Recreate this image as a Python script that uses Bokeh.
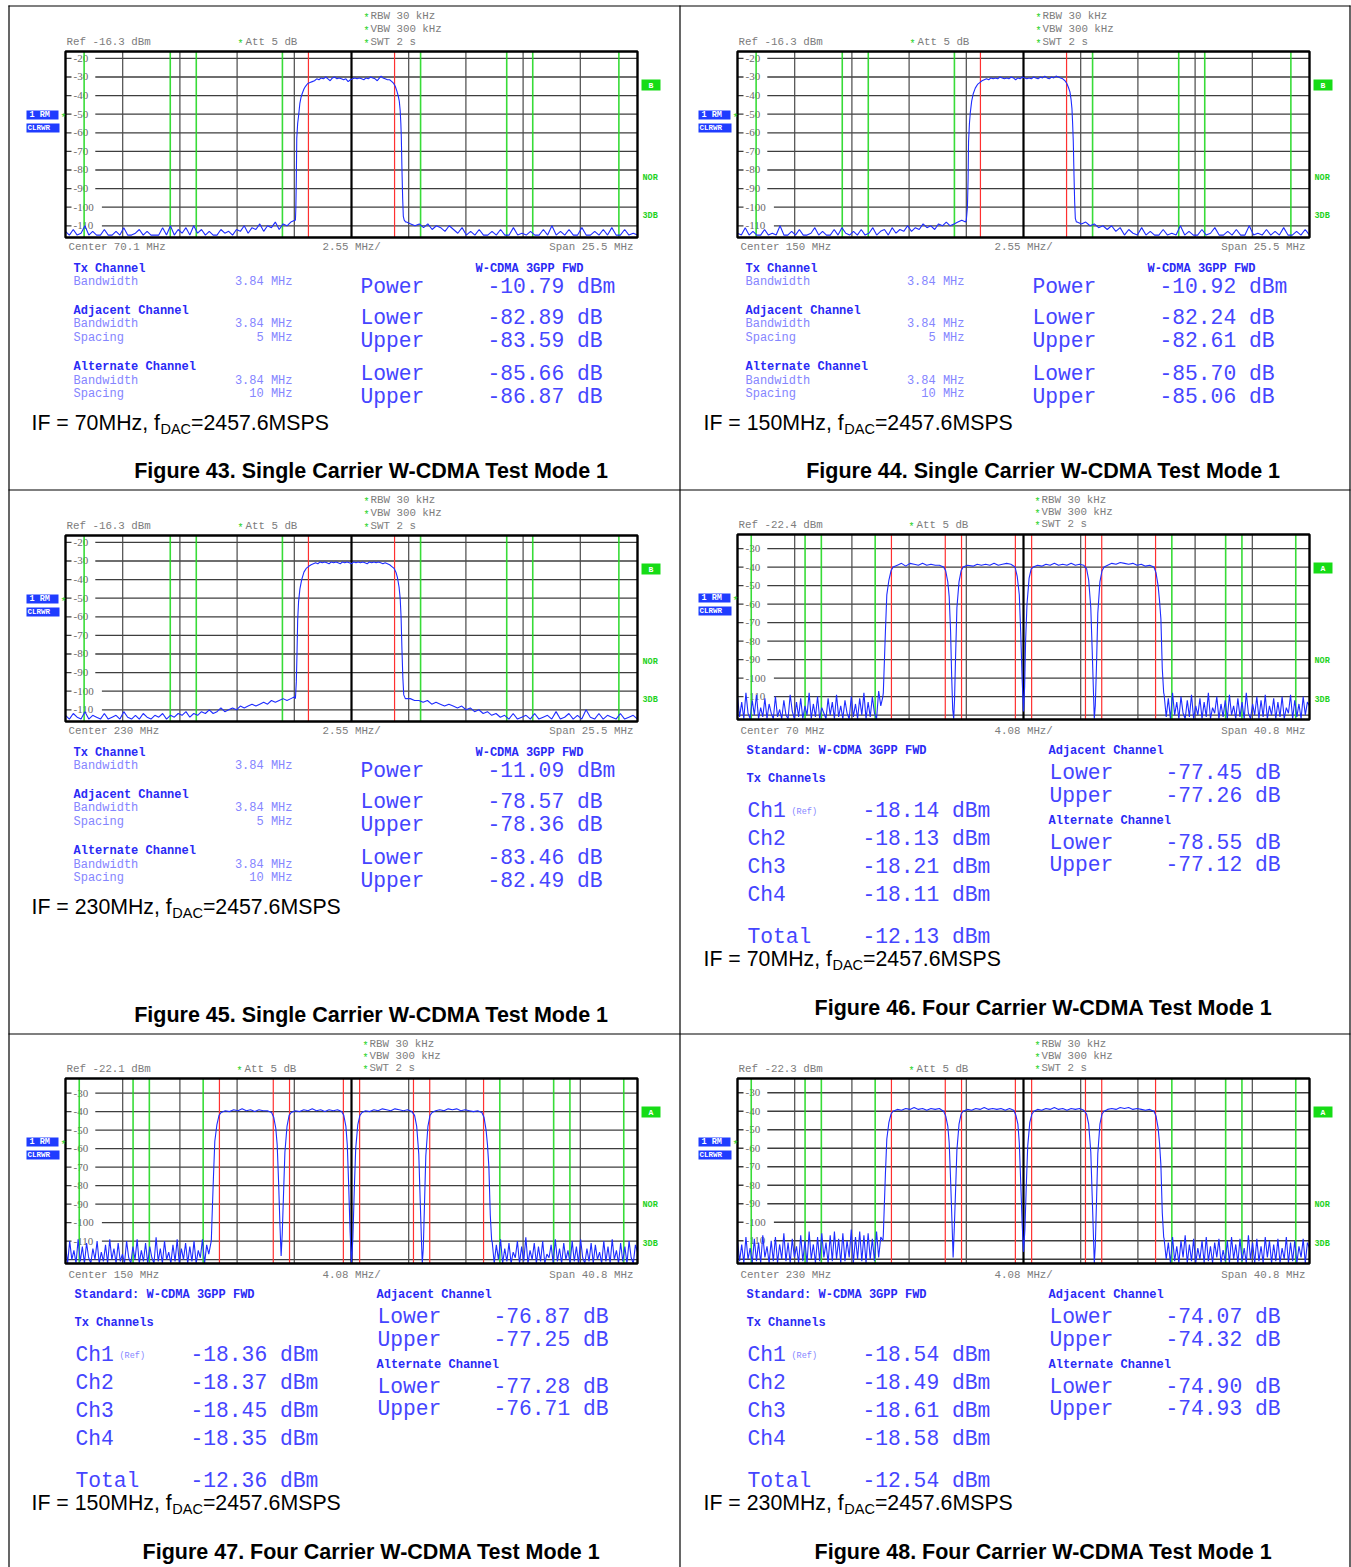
import numpy as np
from bokeh.plotting import figure
from bokeh.models import Range1d, ColumnDataSource
from bokeh.embed import file_html
from bokeh.resources import INLINE

# ---------------------------------------------------------------- data
FIGURE_NUMBERS = [43, 44, 45, 46, 47, 48]
CARRIER_WORD = ["Single", "Single", "Single", "Four", "Four", "Four"]
CENTER_MHZ = [70.1, 150, 230, 70, 150, 230]
SPAN_MHZ = [25.5, 25.5, 25.5, 40.8, 40.8, 40.8]
REF_LEVEL_DBM = [-16.3, -16.3, -16.3, -22.4, -22.1, -22.3]
IF_MHZ = [70, 150, 230, 70, 150, 230]
MARKER_LETTER = ["B", "B", "B", "A", "A", "A"]
FDAC_MSPS = 2457.6
CHANNEL_BW_MHZ = 3.84
ADJ_SPACING_MHZ = 5
ALT_SPACING_MHZ = 10
SC_CARRIER_OFFSETS = [0.0]
MC_CARRIER_OFFSETS = [-7.5, -2.5, 2.5, 7.5]

# single-carrier ACLR results (Fig 43, 44, 45)
SC_POWER_DBM = [-10.79, -10.92, -11.09]
SC_ADJ_LOWER = [-82.89, -82.24, -78.57]
SC_ADJ_UPPER = [-83.59, -82.61, -78.36]
SC_ALT_LOWER = [-85.66, -85.70, -83.46]
SC_ALT_UPPER = [-86.87, -85.06, -82.49]
# four-carrier results (Fig 46, 47, 48)
MC_CH1 = [-18.14, -18.36, -18.54]
MC_CH2 = [-18.13, -18.37, -18.49]
MC_CH3 = [-18.21, -18.45, -18.61]
MC_CH4 = [-18.11, -18.35, -18.58]
MC_TOTAL = [-12.13, -12.36, -12.54]
MC_ADJ_LOWER = [-77.45, -76.87, -74.07]
MC_ADJ_UPPER = [-77.26, -77.25, -74.32]
MC_ALT_LOWER = [-78.55, -77.28, -74.90]
MC_ALT_UPPER = [-77.12, -76.71, -74.93]

# ---- traces: noise floor samples (evenly swept) + carrier points (offset MHz, dBm)
N43_L = [-113,-115,-112,-115,-114,-110,-115,-113,-115,-115,-112,-115,-115,-113,-115,-111,-115,-115,-114,-112,
         -115,-113,-115,-115,-115,-111,-115,-110,-115,-112,-114,-111,-115,-110,-114,-112,-115,-113,-115,-115,
         -112,-114,-113,-115,-112,-113,-110,-114,-111,-112,-109,-113,-110,-111,-108,-112,-109,-110,-108,-107]
N43_R = [-108,-109,-110,-109,-111,-109,-112,-110,-111,-113,-110,-112,-114,-111,-115,-113,-115,-112,-115,-115,
         -113,-115,-112,-115,-115,-111,-115,-114,-115,-113,-115,-115,-112,-115,-110,-115,-113,-115,-112,-115,
         -115,-111,-115,-115,-113,-115,-112,-115,-111,-115,-115,-112,-115,-114,-115]
C43 = [(-2.50,-107),(-2.48,-100),(-2.46,-85),(-2.44,-63),(-2.40,-55),(-2.36,-51),(-2.30,-44),(-2.25,-41),
       (-2.20,-39),(-2.12,-36.5),(-2.05,-35),(-1.95,-33.5),(-1.85,-33),(-1.75,-32.5),(-1.65,-32),(-1.55,-31),
       (-1.45,-31.5),(-1.35,-30.5),(-1.25,-31),(-1.15,-30),(-1.05,-31),(-0.95,-32),(-0.85,-30.5),(-0.75,-30),
       (-0.65,-31),(-0.55,-30.5),(-0.45,-31),(-0.35,-31.5),(-0.25,-31),(-0.15,-32.5),(-0.05,-31.5),(0.05,-31),
       (0.15,-30.5),(0.25,-31),(0.35,-30.5),(0.45,-31),(0.55,-31.5),(0.65,-30.5),(0.75,-31),(0.85,-30),
       (0.95,-30.5),(1.05,-31),(1.15,-32),(1.25,-30.5),(1.32,-29.5),(1.40,-30.5),(1.50,-31),(1.60,-31.5),
       (1.70,-31.5),(1.80,-32.5),(1.88,-33.5),(1.95,-35),(2.02,-37.5),(2.08,-40),(2.13,-43),(2.17,-48),
       (2.20,-55),(2.22,-62),(2.25,-80),(2.28,-95),(2.31,-105),(2.35,-107),(2.42,-108)]

N44_L = [-114,-115,-111,-115,-113,-115,-115,-112,-115,-114,-115,-110,-115,-115,-113,-115,-112,-115,-115,-114,
         -111,-115,-113,-115,-115,-112,-115,-111,-114,-115,-113,-115,-112,-115,-114,-111,-115,-113,-112,-115,
         -111,-114,-112,-113,-110,-113,-111,-112,-109,-111,-110,-112,-109,-110,-108,-110,-109,-108,-107,-108]
N44_R = [-108,-109,-108,-110,-109,-111,-110,-112,-110,-113,-111,-115,-112,-114,-115,-111,-115,-113,-115,-115,
         -112,-115,-114,-115,-110,-115,-113,-115,-115,-112,-115,-114,-111,-115,-115,-113,-115,-112,-115,-115,
         -110,-115,-114,-115,-112,-115,-113,-115,-111,-115,-115,-113,-115,-112,-115]
C44 = [(-2.55,-107),(-2.50,-100),(-2.47,-85),(-2.45,-65),(-2.41,-55),(-2.37,-49),(-2.31,-43),(-2.24,-39),
       (-2.15,-36),(-2.05,-34),(-1.95,-33),(-1.85,-32),(-1.75,-31.5),(-1.65,-31),(-1.55,-31.5),(-1.45,-30.5),
       (-1.35,-31),(-1.25,-30.5),(-1.15,-31),(-1.05,-30),(-0.95,-30.5),(-0.85,-31),(-0.75,-30.5),(-0.65,-31),
       (-0.55,-30),(-0.45,-30.5),(-0.35,-31.5),(-0.25,-30.5),(-0.15,-31),(-0.05,-30),(0.05,-30.5),(0.15,-31),
       (0.25,-30.5),(0.35,-31),(0.45,-30),(0.55,-30.5),(0.65,-31),(0.75,-30),(0.85,-30.5),(0.95,-29.5),
       (1.05,-30.5),(1.15,-31),(1.25,-30),(1.35,-30.5),(1.45,-29.5),(1.55,-30),(1.65,-30.5),(1.75,-31),
       (1.85,-32),(1.93,-33.5),(2.00,-35.5),(2.07,-38),(2.12,-42),(2.16,-47),(2.19,-55),(2.22,-65),
       (2.25,-82),(2.28,-97),(2.31,-106),(2.36,-108)]

N45_L = [-113,-115,-112,-114,-115,-111,-115,-113,-114,-115,-112,-115,-114,-113,-115,-111,-114,-115,-113,-115,
         -112,-114,-115,-113,-114,-112,-115,-113,-114,-112,-113,-111,-114,-112,-113,-111,-112,-110,-112,-111,
         -109,-111,-110,-109,-110,-108,-109,-108,-107,-108,-107,-106,-107,-105,-106,-105,-104,-105,-104,-103]
N45_R = [-104,-104,-105,-105,-106,-105,-107,-106,-107,-108,-107,-108,-109,-108,-110,-109,-111,-110,-112,-111,
         -113,-112,-114,-113,-115,-112,-115,-114,-113,-115,-112,-115,-114,-113,-115,-111,-115,-114,-112,-115,
         -113,-115,-110,-114,-115,-112,-115,-113,-114,-115,-112,-115,-114,-113,-115]
C45 = [(-2.50,-104),(-2.46,-95),(-2.43,-80),(-2.40,-62),(-2.36,-52),(-2.30,-45),(-2.22,-40),(-2.12,-36),
       (-2.02,-34),(-1.92,-33),(-1.80,-32),(-1.70,-31.5),(-1.60,-31),(-1.50,-31.5),(-1.40,-30.5),(-1.30,-31),
       (-1.20,-30.5),(-1.10,-31),(-1.00,-31.5),(-0.90,-30.5),(-0.80,-31),(-0.70,-30.5),(-0.60,-31),(-0.50,-31.5),
       (-0.40,-30.5),(-0.30,-31),(-0.20,-30.5),(-0.10,-31),(0.00,-31.5),(0.10,-30.5),(0.20,-31),(0.30,-30.5),
       (0.40,-31),(0.50,-30.5),(0.60,-31),(0.70,-31.5),(0.80,-30.5),(0.90,-31),(1.00,-30.5),(1.10,-31),
       (1.20,-30.5),(1.30,-31),(1.40,-31.5),(1.50,-31),(1.60,-31.5),(1.70,-32),(1.80,-33),(1.90,-34),
       (1.98,-36),(2.05,-39),(2.12,-44),(2.17,-50),(2.21,-60),(2.25,-78),(2.29,-93),(2.33,-102),(2.40,-104)]

N46_L = [-110,-121,-113,-122,-108,-119,-122,-112,-120,-109,-122,-116,-121,-111,-122,-114,-119,-122,-110,-121,
         -117,-122,-112,-120,-122,-109,-118,-122,-113,-121,-111,-122,-115,-120,-108,-122,-114,-121,-110,-122,
         -116,-119,-122,-111,-120,-113,-122,-109,-121,-115,-122,-112,-119,-122,-110,-121,-114,-122,-111,-120,
         -108,-122,-113,-121,-110,-119,-122,-107,-115,-110]
N46_R = [-109,-121,-111,-122,-108,-120,-113,-122,-110,-119,-122,-112,-121,-109,-122,-115,-120,-111,-122,-113,
         -121,-108,-122,-116,-119,-110,-122,-114,-121,-112,-122,-109,-120,-115,-122,-111,-121,-113,-122,-108,
         -119,-122,-114,-120,-110,-122,-112,-121,-109,-122,-115,-120,-111,-122,-113,-121,-110,-122,-116,-119,
         -109,-122,-112,-121,-114,-122,-110,-120,-113,-115]
C46 = [(-10.0,-108),(-9.95,-97),(-9.85,-75),(-9.75,-55),(-9.6,-47),(-9.45,-42),(-9.3,-40),(-9.0,-39),
       (-8.7,-38),(-8.4,-39.5),(-8.1,-38),(-7.8,-38.5),(-7.5,-39),(-7.2,-38),(-6.9,-39),(-6.6,-38.5),
       (-6.3,-39),(-6.0,-39),(-5.7,-40),(-5.55,-42),(-5.4,-48),(-5.3,-56),(-5.2,-75),(-5.12,-100),
       (-5.05,-117),(-4.98,-122),(-4.92,-112),(-4.85,-90),(-4.75,-62),(-4.6,-48),(-4.45,-42),(-4.3,-40),
       (-4.0,-39),(-3.6,-39.5),(-3.3,-38.5),(-3.0,-39),(-2.7,-38.5),(-2.4,-39),(-2.1,-38),(-1.8,-39),
       (-1.5,-38.5),(-1.2,-38),(-0.9,-38.5),(-0.6,-40),(-0.45,-45),(-0.3,-55),(-0.2,-75),(-0.1,-100),
       (0.0,-118),(0.08,-105),(0.15,-80),(0.25,-60),(0.4,-46),(0.55,-41),(0.7,-40),(1.0,-39),
       (1.3,-39.5),(1.6,-38.5),(1.9,-39),(2.2,-38),(2.5,-39),(2.8,-38.5),(3.1,-39),(3.4,-38),
       (3.7,-39),(4.0,-38.5),(4.3,-39),(4.5,-41),(4.65,-47),(4.8,-62),(4.9,-85),(5.0,-110),
       (5.05,-122),(5.12,-115),(5.2,-95),(5.3,-65),(5.45,-48),(5.6,-42),(5.75,-40),(6.0,-39),
       (6.3,-38),(6.6,-38.5),(6.9,-37.5),(7.2,-38),(7.5,-38.5),(7.8,-38),(8.1,-39),(8.4,-38.5),
       (8.7,-39.5),(9.0,-39),(9.3,-40),(9.45,-43),(9.6,-50),(9.7,-58),(9.8,-68),(9.9,-95),(10.0,-108)]

N47_L = [-112,-122,-110,-120,-115,-122,-109,-121,-113,-122,-111,-119,-122,-114,-120,-110,-122,-116,-121,-112,
         -122,-109,-120,-114,-122,-111,-121,-117,-122,-110,-119,-122,-113,-120,-109,-122,-115,-121,-111,-122,
         -113,-119,-122,-108,-121,-114,-122,-110,-120,-116,-122,-112,-121,-109,-122,-114,-120,-111,-122,-113,
         -121,-110,-122,-115,-119,-109,-122,-112,-117,-111]
N47_R = [-110,-122,-112,-120,-109,-122,-114,-121,-111,-122,-116,-119,-110,-122,-113,-121,-108,-122,-115,-120,
         -111,-122,-113,-121,-110,-122,-117,-119,-112,-122,-109,-121,-114,-122,-111,-120,-115,-122,-110,-121,
         -113,-122,-109,-119,-122,-114,-121,-111,-122,-112,-120,-116,-122,-110,-121,-113,-122,-109,-120,-115,
         -122,-111,-121,-113,-122,-110,-119,-122,-112,-116]
C47 = [(-10.0,-110),(-9.95,-98),(-9.85,-76),(-9.75,-56),(-9.6,-47),(-9.45,-42),(-9.3,-40.5),(-9.0,-39.5),
       (-8.7,-40),(-8.4,-39),(-8.1,-39.5),(-7.8,-38.5),(-7.5,-39.5),(-7.2,-39),(-6.9,-40),(-6.6,-39),
       (-6.3,-39.5),(-6.0,-39.5),(-5.7,-40.5),(-5.55,-43),(-5.4,-49),(-5.3,-58),(-5.2,-78),(-5.1,-102),
       (-5.02,-118),(-4.94,-106),(-4.85,-85),(-4.75,-62),(-4.6,-48),(-4.45,-42),(-4.3,-40.5),(-4.0,-39.5),
       (-3.7,-40),(-3.4,-39),(-3.1,-39.5),(-2.8,-38.5),(-2.5,-39.5),(-2.2,-39),(-1.9,-40),(-1.6,-39),
       (-1.3,-39.5),(-1.0,-39),(-0.7,-40),(-0.55,-42),(-0.4,-48),(-0.3,-58),(-0.2,-80),(-0.1,-105),
       (0.0,-122),(0.1,-108),(0.2,-82),(0.3,-60),(0.45,-47),(0.6,-42),(0.75,-40.5),(1.0,-39.5),
       (1.3,-40),(1.6,-39),(1.9,-39.5),(2.2,-38.5),(2.5,-39),(2.8,-39.5),(3.1,-38.5),(3.4,-39),
       (3.7,-39.5),(4.0,-39),(4.3,-40),(4.5,-42),(4.65,-48),(4.8,-63),(4.9,-88),(5.0,-112),
       (5.05,-122),(5.12,-114),(5.2,-92),(5.3,-64),(5.45,-48),(5.6,-42),(5.75,-40.5),(6.0,-39.5),
       (6.3,-39),(6.6,-39.5),(6.9,-38.5),(7.2,-39),(7.5,-38.5),(7.8,-39.5),(8.1,-39),(8.4,-39.5),
       (8.7,-40),(9.0,-39.5),(9.3,-40.5),(9.45,-43),(9.6,-50),(9.7,-58),(9.8,-70),(9.9,-96),(10.0,-110)]

N48_L = [-110,-121,-112,-122,-108,-120,-114,-122,-109,-121,-111,-122,-107,-119,-113,-122,-110,-121,-108,-122,
         -112,-120,-106,-121,-111,-122,-109,-119,-113,-122,-107,-121,-110,-122,-105,-120,-112,-122,-108,-121,
         -106,-119,-111,-122,-107,-121,-105,-120,-109,-122,-106,-121,-110,-119,-104,-122,-108,-120,-105,-121,
         -107,-122,-106,-120,-109,-121,-105,-119,-108,-110]
N48_R = [-109,-120,-111,-122,-108,-121,-113,-122,-110,-119,-107,-122,-112,-121,-109,-122,-114,-120,-110,-122,
         -108,-121,-113,-122,-111,-119,-109,-122,-115,-121,-110,-122,-108,-120,-112,-122,-109,-121,-114,-122,
         -107,-120,-111,-122,-109,-121,-113,-122,-108,-119,-110,-122,-112,-121,-109,-122,-114,-120,-108,-122,
         -111,-121,-110,-122,-113,-119,-109,-122,-111,-114]
C48 = [(-10.0,-107),(-9.95,-96),(-9.85,-74),(-9.75,-55),(-9.6,-46),(-9.45,-41.5),(-9.3,-40),(-9.0,-39),
       (-8.7,-39.5),(-8.4,-38.5),(-8.1,-39),(-7.8,-38),(-7.5,-39),(-7.2,-38.5),(-6.9,-39.5),(-6.6,-38.5),
       (-6.3,-39),(-6.0,-38.5),(-5.7,-40),(-5.55,-42.5),(-5.4,-48),(-5.3,-57),(-5.2,-77),(-5.1,-100),
       (-5.02,-119),(-4.94,-104),(-4.85,-84),(-4.75,-61),(-4.6,-47),(-4.45,-41.5),(-4.3,-40),(-4.0,-39),
       (-3.7,-39.5),(-3.4,-38.5),(-3.1,-39),(-2.8,-38),(-2.5,-39),(-2.2,-38.5),(-1.9,-39),(-1.6,-38.5),
       (-1.3,-39.5),(-1.0,-38.5),(-0.7,-39.5),(-0.55,-42),(-0.4,-47),(-0.3,-57),(-0.2,-78),(-0.1,-100),
       (0.0,-116),(0.1,-104),(0.2,-80),(0.3,-59),(0.45,-46),(0.6,-41.5),(0.75,-40),(1.0,-39),
       (1.3,-39.5),(1.6,-38.5),(1.9,-39),(2.2,-38),(2.5,-39),(2.8,-38.5),(3.1,-39.5),(3.4,-38.5),
       (3.7,-39),(4.0,-38.5),(4.3,-39.5),(4.5,-41.5),(4.65,-47),(4.8,-62),(4.9,-86),(5.0,-110),
       (5.05,-122),(5.12,-113),(5.2,-91),(5.3,-63),(5.45,-47),(5.6,-41.5),(5.75,-40),(6.0,-39),
       (6.3,-38.5),(6.6,-39),(6.9,-38),(7.2,-38.5),(7.5,-38),(7.8,-39),(8.1,-38.5),(8.4,-39),
       (8.7,-39.5),(9.0,-39),(9.3,-40),(9.45,-42.5),(9.6,-49),(9.7,-57),(9.8,-69),(9.9,-95),(10.0,-108)]

NOISE_LEFT = [N43_L, N44_L, N45_L, N46_L, N47_L, N48_L]
NOISE_RIGHT = [N43_R, N44_R, N45_R, N46_R, N47_R, N48_R]
CARRIER_TRACE = [C43, C44, C45, C46, C47, C48]

# ---------------------------------------------------------------- layout (page pixels)
W, H = 1351, 1567
X0, Y0 = 0, 0
FRAMES = [(65, 637, 51, 237), (737, 1309, 51, 237), (65, 637, 535, 721),
          (737, 1309, 534, 719), (65, 637, 1078, 1263), (737, 1309, 1078, 1263)]
SC_SHIFT = [(0, 0), (672, 0), (0, 484)]
MC_SHIFT = [(0, 0), (-672, 544), (0, 544)]
CAPTION_Y = [470, 470, 1014, 1007, 1551, 1551]

MONO = "Liberation Mono"
SANS = "Liberation Sans"
GRAY = "#7c7c7c"
GREEN = "#1ed21e"
BLUE_H = "#2a2af5"
BLUE_L = "#8585ff"
BLUE_V = "#4545ff"
TRACE = "#1e2cff"
BIG = 21.3

p = figure(width=W, height=H, x_range=Range1d(X0, X0 + W), y_range=Range1d(Y0 + H, Y0),
           output_backend="svg", toolbar_location=None, min_border=0,
           x_axis_type=None, y_axis_type=None)
p.outline_line_color = None
p.background_fill_color = "white"
p.border_fill_color = "white"

# table lines of the page
p.segment(x0=[8.5, 679.5, 1349.5, 8, 8, 8], y0=[5, 5, 5, 5.5, 489.5, 1033.5],
          x1=[8.5, 679.5, 1349.5, 1350, 1350, 1350], y1=[1567, 1567, 1567, 5.5, 489.5, 1033.5],
          line_color="black", line_width=1.2)

T = dict(x=[], y=[], text=[], tfont=[], tsize=[], tcolor=[], tstyle=[], talign=[])


def put(x, y, s, size, color, style="normal", font=MONO, align="left"):
    T["x"].append(x); T["y"].append(y); T["text"].append(s)
    T["tfont"].append(font); T["tsize"].append(f"{size}px"); T["tcolor"].append(color)
    T["tstyle"].append(style); T["talign"].append(align)


ARIAL_W = {'I': .278, 'F': .611, ' ': .278, '=': .584, 'M': .833, 'H': .722, 'z': .5, ',': .278,
           'f': .278, 'D': .722, 'A': .667, 'C': .722}


def sans_w(s, size):
    return sum(ARIAL_W.get(c, .556) for c in s) * size


def trace_xy(i):
    span = SPAN_MHZ[i]
    c = CENTER_MHZ[i]
    cp = CARRIER_TRACE[i]
    nl, nr = NOISE_LEFT[i], NOISE_RIGHT[i]
    lx = np.linspace(-span / 2, cp[0][0] - 0.03, len(nl))
    rx = np.linspace(cp[-1][0] + 0.03, span / 2, len(nr))
    x = np.concatenate([lx, [q[0] for q in cp], rx]) + c
    y = np.concatenate([nl, [q[1] for q in cp], nr])
    return x, y


for i in range(6):
    L, R, Tp, B = FRAMES[i]
    c, span, ref = CENTER_MHZ[i], SPAN_MHZ[i], REF_LEVEL_DBM[i]
    f0, f1 = c - span / 2, c + span / 2
    ylo, yhi = ref - 100, ref
    sxp = (f1 - f0) / (R - L)
    syp = (yhi - ylo) / (B - Tp)
    xn, yn = f"x{i}", f"y{i}"
    p.extra_x_ranges[xn] = Range1d(f0 - (L - X0) * sxp, f1 + (X0 + W - R) * sxp)
    p.extra_y_ranges[yn] = Range1d(ylo - (Y0 + H - B) * syp, yhi + (Tp - Y0) * syp)

    # grid
    levels = [v for v in range(-10, -130, -10) if ylo < v < yhi]
    p.segment(x0=[f0] * len(levels), x1=[f1] * len(levels), y0=levels, y1=levels,
              x_range_name=xn, y_range_name=yn, line_color="#3e3e3e", line_width=1.3)
    vx = [f0 + k * span / 10 for k in range(1, 10)]
    p.segment(x0=vx, x1=vx, y0=[ylo] * 9, y1=[yhi] * 9, x_range_name=xn, y_range_name=yn,
              line_color=["#4a4a4a"] * 4 + ["black"] + ["#4a4a4a"] * 4,
              line_width=[1.2] * 4 + [2.2] + [1.2] * 4)
    # y tick labels inside the frame
    lab_lv = [v for v in levels if v - ylo > 4]
    labs = [f"-{abs(v)}" for v in lab_lv]
    lw = [len(s) * 6.6 + 4 for s in labs]
    p.rect(x=[L + 6 + w / 2 for w in lw], y=lab_lv, width=lw, height=[10] * len(lw),
           width_units="screen", height_units="screen", y_range_name=yn,
           fill_color="white", line_color=None)
    p.text(x=[L + 8] * len(labs), y=lab_lv, text=labs, y_range_name=yn,
           text_font=MONO, text_font_size="11px", text_color="#6a6a6a",
           text_baseline="middle", text_align="left")

    # channel markers
    carriers = SC_CARRIER_OFFSETS if i < 3 else MC_CARRIER_OFFSETS
    lo, hi = min(carriers), max(carriers)
    red = [c + o + s * CHANNEL_BW_MHZ / 2 for o in carriers for s in (-1, 1)]
    grn = []
    for sp in (ADJ_SPACING_MHZ, ALT_SPACING_MHZ):
        for cc in (lo - sp, hi + sp):
            grn += [c + cc - CHANNEL_BW_MHZ / 2, c + cc + CHANNEL_BW_MHZ / 2]
    p.segment(x0=grn, x1=grn, y0=[ylo] * len(grn), y1=[yhi] * len(grn), x_range_name=xn,
              y_range_name=yn, line_color="#22d822", line_width=1.6, line_alpha=0.9)
    p.segment(x0=red, x1=red, y0=[ylo] * len(red), y1=[yhi] * len(red), x_range_name=xn,
              y_range_name=yn, line_color="#ff3030", line_width=1.2)

    # trace
    tx, ty = trace_xy(i)
    p.line(x=tx, y=ty, x_range_name=xn, y_range_name=yn, line_color=TRACE, line_width=1.1)
    # frame
    p.quad(left=f0, right=f1, bottom=ylo, top=yhi, x_range_name=xn, y_range_name=yn,
           fill_color=None, line_color="black", line_width=2.4)

# ---------------------------------------------------------------- texts
BOXQ = dict(l=[], r=[], t=[], b=[], c=[])


def box(l, r, t, b, col):
    BOXQ["l"].append(l); BOXQ["r"].append(r); BOXQ["t"].append(t); BOXQ["b"].append(b); BOXQ["c"].append(col)


def if_line(x, y, i):
    part1 = f"IF = {IF_MHZ[i]}MHz, f"
    put(x, y, part1, BIG, "black", font=SANS)
    x1 = x + sans_w(part1, BIG) + 0.5
    put(x1, y + 6, "DAC", 14.5, "black", font=SANS)
    x2 = x1 + sans_w("DAC", 14.5)
    put(x2, y, f"={FDAC_MSPS}MSPS", BIG, "black", font=SANS)


def side_items(dx, dy, rm_y, mk_y, nor_y, db_y, rx, letter):
    box(26 + dx, 58 + dx, rm_y + dy, rm_y + 9 + dy, "#1f3cff")
    put(29 + dx, rm_y + 4.8 + dy, "1 RM", 8.5, "white", "bold")
    put(60 + dx, rm_y + 7.5 + dy, "*", 10, GREEN)
    box(26 + dx, 59 + dx, rm_y + 13 + dy, rm_y + 22 + dy, "#1f3cff")
    put(27 + dx, rm_y + 17.8 + dy, "CLRWR", 7.5, "white", "bold")
    box(rx + dx, rx + 19 + dx, mk_y + dy, mk_y + 11 + dy, "#16dc16")
    put(rx + 9.5 + dx, mk_y + 5.8 + dy, letter, 8, "white", "bold", align="center")
    put(rx + 1 + dx, nor_y + dy, "NOR", 8.5, GREEN, "bold")
    put(rx + 1 + dx, db_y + dy, "3DB", 8.5, GREEN, "bold")


# single carrier figures 43-45
for j in range(3):
    i = j
    dx, dy = SC_SHIFT[j]
    ref, c, span = REF_LEVEL_DBM[i], CENTER_MHZ[i], SPAN_MHZ[i]
    for k, s in enumerate(["RBW 30 kHz", "VBW 300 kHz", "SWT 2 s"]):
        put(363 + dx, 18 + 13 * k + dy, "*", 10, GREEN)
        put(370 + dx, 15 + 13 * k + dy, s, 10.8, GRAY)
    put(66 + dx, 41 + dy, f"Ref {ref:.1f} dBm", 10.8, GRAY)
    put(237 + dx, 44 + dy, "*", 10, GREEN)
    put(245 + dx, 41 + dy, "Att  5 dB", 10.8, GRAY)
    put(68 + dx, 246 + dy, f"Center {c:g} MHz", 10.8, GRAY)
    put(322 + dx, 246 + dy, f"{span / 10:.2f} MHz/", 10.8, GRAY)
    put(633 + dx, 246 + dy, f"Span {span:g} MHz", 10.8, GRAY, align="right")
    side_items(dx, dy, 110, 79, 177, 215, 641, MARKER_LETTER[i])

    put(73 + dx, 268 + dy, "Tx Channel", 12, BLUE_H, "bold")
    put(475 + dx, 268 + dy, "W-CDMA 3GPP FWD", 12, BLUE_H, "bold")
    put(73 + dx, 281 + dy, "Bandwidth", 12, BLUE_L)
    put(292 + dx, 281 + dy, f"{CHANNEL_BW_MHZ} MHz", 12, BLUE_L, align="right")
    put(360 + dx, 286 + dy, "Power", BIG, BLUE_V)
    put(487 + dx, 286 + dy, f"{SC_POWER_DBM[j]:.2f} dBm", BIG, BLUE_V)
    put(73 + dx, 310 + dy, "Adjacent Channel", 12, BLUE_H, "bold")
    put(73 + dx, 323 + dy, "Bandwidth", 12, BLUE_L)
    put(292 + dx, 323 + dy, f"{CHANNEL_BW_MHZ} MHz", 12, BLUE_L, align="right")
    put(73 + dx, 337 + dy, "Spacing", 12, BLUE_L)
    put(292 + dx, 337 + dy, f"{ADJ_SPACING_MHZ} MHz", 12, BLUE_L, align="right")
    put(360 + dx, 317 + dy, "Lower", BIG, BLUE_V)
    put(487 + dx, 317 + dy, f"{SC_ADJ_LOWER[j]:.2f} dB", BIG, BLUE_V)
    put(360 + dx, 340 + dy, "Upper", BIG, BLUE_V)
    put(487 + dx, 340 + dy, f"{SC_ADJ_UPPER[j]:.2f} dB", BIG, BLUE_V)
    put(73 + dx, 366 + dy, "Alternate Channel", 12, BLUE_H, "bold")
    put(73 + dx, 380 + dy, "Bandwidth", 12, BLUE_L)
    put(292 + dx, 380 + dy, f"{CHANNEL_BW_MHZ} MHz", 12, BLUE_L, align="right")
    put(73 + dx, 393 + dy, "Spacing", 12, BLUE_L)
    put(292 + dx, 393 + dy, f"{ALT_SPACING_MHZ} MHz", 12, BLUE_L, align="right")
    put(360 + dx, 373 + dy, "Lower", BIG, BLUE_V)
    put(487 + dx, 373 + dy, f"{SC_ALT_LOWER[j]:.2f} dB", BIG, BLUE_V)
    put(360 + dx, 396 + dy, "Upper", BIG, BLUE_V)
    put(487 + dx, 396 + dy, f"{SC_ALT_UPPER[j]:.2f} dB", BIG, BLUE_V)
    if_line(31 + dx, 422 + dy, i)
    put(371 + dx, CAPTION_Y[i], f"Figure {FIGURE_NUMBERS[i]}. {CARRIER_WORD[i]} Carrier W-CDMA Test Mode 1",
        21.5, "black", "bold", SANS, "center")

# four carrier figures 46-48
MC_CH = [MC_CH1, MC_CH2, MC_CH3, MC_CH4]
for j in range(3):
    i = j + 3
    dx, dy = MC_SHIFT[j]
    ref, c, span = REF_LEVEL_DBM[i], CENTER_MHZ[i], SPAN_MHZ[i]
    for k, s in enumerate(["RBW 30 kHz", "VBW 300 kHz", "SWT 2 s"]):
        put(1034 + dx, 502 + 12 * k + dy, "*", 10, GREEN)
        put(1041 + dx, 499 + 12 * k + dy, s, 10.8, GRAY)
    put(738 + dx, 524 + dy, f"Ref {ref:.1f} dBm", 10.8, GRAY)
    put(908 + dx, 527 + dy, "*", 10, GREEN)
    put(916 + dx, 524 + dy, "Att  5 dB", 10.8, GRAY)
    put(740 + dx, 730 + dy, f"Center {c:g} MHz", 10.8, GRAY)
    put(994 + dx, 730 + dy, f"{span / 10:.2f} MHz/", 10.8, GRAY)
    put(1305 + dx, 730 + dy, f"Span {span:g} MHz", 10.8, GRAY, align="right")
    side_items(dx + 672, dy, 593, 562, 660, 699, 1313 - 672, MARKER_LETTER[i])

    put(746 + dx, 750 + dy, "Standard: W-CDMA 3GPP FWD", 12, BLUE_H, "bold")
    put(746 + dx, 778 + dy, "Tx Channels", 12, BLUE_H, "bold")
    for k in range(4):
        yy = 810 + 28 * k + dy
        put(747 + dx, yy, f"Ch{k + 1}", BIG, BLUE_V)
        put(862 + dx, yy, f"{MC_CH[k][j]:.2f} dBm", BIG, BLUE_V)
    put(791 + dx, 811 + dy, "(Ref)", 8.5, BLUE_L)
    put(747 + dx, 936 + dy, "Total", BIG, BLUE_V)
    put(862 + dx, 936 + dy, f"{MC_TOTAL[j]:.2f} dBm", BIG, BLUE_V)
    put(1048 + dx, 750 + dy, "Adjacent Channel", 12, BLUE_H, "bold")
    put(1049 + dx, 772 + dy, "Lower", BIG, BLUE_V)
    put(1165 + dx, 772 + dy, f"{MC_ADJ_LOWER[j]:.2f} dB", BIG, BLUE_V)
    put(1049 + dx, 795 + dy, "Upper", BIG, BLUE_V)
    put(1165 + dx, 795 + dy, f"{MC_ADJ_UPPER[j]:.2f} dB", BIG, BLUE_V)
    put(1048 + dx, 820 + dy, "Alternate Channel", 12, BLUE_H, "bold")
    put(1049 + dx, 842 + dy, "Lower", BIG, BLUE_V)
    put(1165 + dx, 842 + dy, f"{MC_ALT_LOWER[j]:.2f} dB", BIG, BLUE_V)
    put(1049 + dx, 864 + dy, "Upper", BIG, BLUE_V)
    put(1165 + dx, 864 + dy, f"{MC_ALT_UPPER[j]:.2f} dB", BIG, BLUE_V)
    if_line(703 + dx, 958 + dy, i)
    put(1043 + dx, CAPTION_Y[i], f"Figure {FIGURE_NUMBERS[i]}. {CARRIER_WORD[i]} Carrier W-CDMA Test Mode 1",
        21.5, "black", "bold", SANS, "center")

p.quad(left="l", right="r", top="t", bottom="b", fill_color="c", line_color=None,
       source=ColumnDataSource(BOXQ))
p.text(x="x", y="y", text="text", text_font="tfont", text_font_size="tsize", text_color="tcolor",
       text_font_style="tstyle", text_align="talign", text_baseline="middle",
       source=ColumnDataSource(T))

open("out.html", "w").write(file_html(p, INLINE))
